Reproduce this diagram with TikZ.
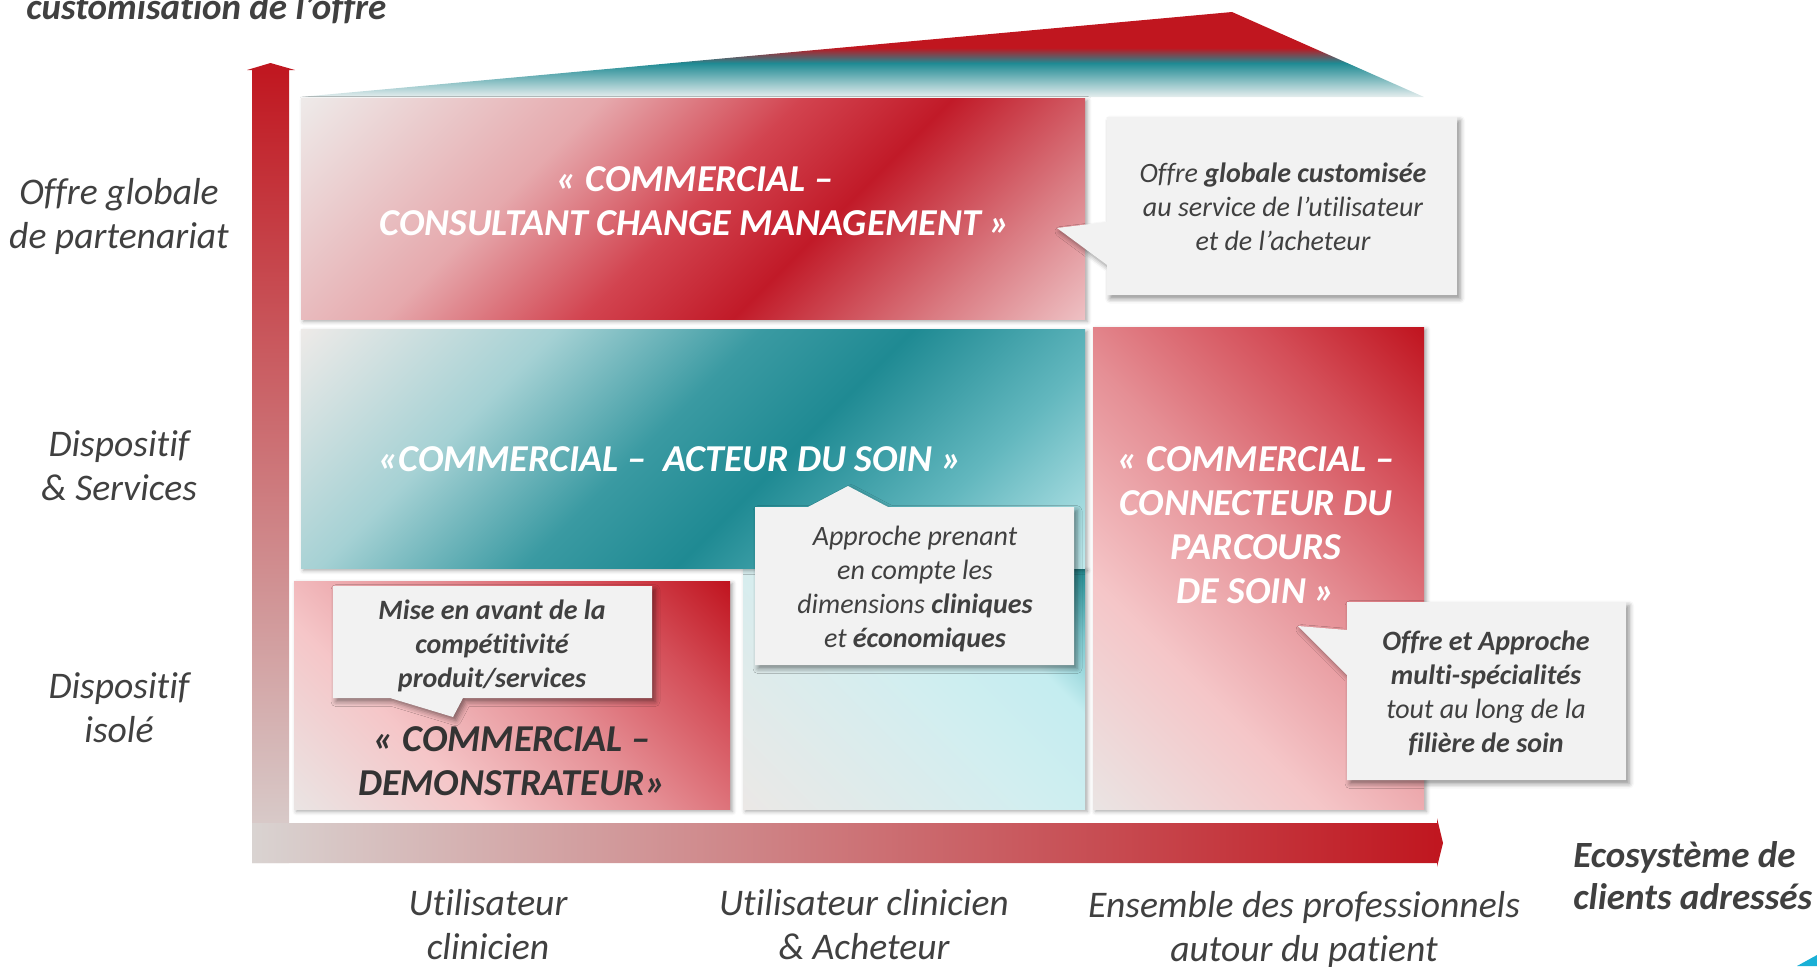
\documentclass[tikz,border=0pt]{standalone}
\usepackage{fontspec}
\setmainfont{Carlito}[Ligatures={TeX,NoCommon}]
\usetikzlibrary{shadows.blur}

\definecolor{txtgray}{HTML}{404040}
\definecolor{darktxt}{HTML}{333333}
\definecolor{boxred}{HTML}{C0161F}
\definecolor{tealdk}{HTML}{1F8A93}
\definecolor{axisgray}{HTML}{D9D3D1}
\definecolor{callfill}{HTML}{F2F2F2}
\definecolor{wlight}{HTML}{E6EEEE}
\definecolor{cyanmark}{HTML}{1AB0D6}

% top panel: light -> pink -> red -> pink
\definecolor{pA}{HTML}{EEEAE9}
\definecolor{pB}{HTML}{E6A9AD}
\definecolor{pC}{HTML}{D2434F}
\definecolor{pD}{HTML}{C11A28}
\definecolor{pE}{HTML}{DA7C83}
\definecolor{pF}{HTML}{EEC0C3}
\pgfdeclarehorizontalshading{topred}{100bp}{color(0bp)=(pA); color(14.6bp)=(pA);
  color(35.9bp)=(pB); color(50bp)=(pC); color(60.6bp)=(pD); color(74.8bp)=(pE);
  color(85.4bp)=(pF); color(100bp)=(pF)}

% middle panel: light -> teal -> light cyan
\definecolor{tA}{HTML}{EDEAE8}
\definecolor{tB}{HTML}{A5D1D4}
\definecolor{tC}{HTML}{3A9AA2}
\definecolor{tD}{HTML}{1F8A93}
\definecolor{tE}{HTML}{62B7BE}
\definecolor{tF}{HTML}{BFE9EC}
\pgfdeclarehorizontalshading{midteal}{100bp}{color(0bp)=(tA); color(14.6bp)=(tA);
  color(32.3bp)=(tB); color(46.5bp)=(tC); color(57.1bp)=(tD); color(71.2bp)=(tE);
  color(85.4bp)=(tF); color(100bp)=(tF)}

% lower teal panel: grey -> pale cyan -> teal
\definecolor{lA}{HTML}{EBE8E6}
\definecolor{lB}{HTML}{D2EEF0}
\definecolor{lC}{HTML}{C4EDF0}
\definecolor{lD}{HTML}{7CC7CD}
\definecolor{lE}{HTML}{22898F}
\pgfdeclarehorizontalshading{lowteal}{100bp}{color(0bp)=(lA); color(14.6bp)=(lA);
  color(50bp)=(lB); color(67.7bp)=(lC); color(76.9bp)=(lD);
  color(85.4bp)=(lE); color(100bp)=(lE)}

% red panels: grey -> pink -> red
\definecolor{rA}{HTML}{EAE4E3}
\definecolor{rB}{HTML}{F5C6C8}
\definecolor{rC}{HTML}{E58F95}
\definecolor{rD}{HTML}{D44E58}
\definecolor{rE}{HTML}{C0141F}
\pgfdeclarehorizontalshading{redpanel}{100bp}{color(0bp)=(rA); color(14.6bp)=(rA);
  color(34.4bp)=(rB); color(53.5bp)=(rC); color(71.2bp)=(rD);
  color(85.4bp)=(rE); color(100bp)=(rE)}

% top wedge: red over teal fading out
\pgfdeclareverticalshading{wedgeshade}{100bp}{color(0bp)=(wlight); color(25bp)=(wlight);
  color(45bp)=(tealdk); color(54bp)=(boxred); color(100bp)=(boxred)}

\begin{document}
\begin{tikzpicture}[x=0.5pt,y=-0.5pt,
  panel/.style={blur shadow={shadow xshift=1.2pt,shadow yshift=-1.2pt,shadow blur radius=2pt,shadow opacity=35}},
  callout/.style={fill=callfill,blur shadow={shadow xshift=1.5pt,shadow yshift=-1.8pt,shadow blur radius=2.5pt,shadow opacity=45}},
  lbl/.style={font=\fontsize{18.8}{22}\selectfont\itshape,text=txtgray,align=center,inner sep=0pt},
  axtitle/.style={font=\fontsize{18.5}{21}\selectfont\bfseries\itshape,text=txtgray,inner sep=0pt},
  bigtxt/.style={font=\fontsize{19}{22}\selectfont\bfseries\itshape,text=white,align=center,inner sep=0pt},
  calltxt/.style={font=\fontsize{14}{17}\selectfont\itshape,text=txtgray,align=center,inner sep=0pt}]
\useasboundingbox (0,0) rectangle (1817,966);

% title of the vertical axis, partly above the frame
\node[axtitle,anchor=base west] (ytitle) at (26,19) {customisation de l’offre};

% rising wedge above the panels
\path[shading=wedgeshade] (300,97) -- (1232,12) -- (1424,97) -- cycle;

% axes
\path[top color=boxred,bottom color=axisgray]
  (252,863) -- (252,70) -- (247,70) -- (270.5,63) -- (295,70) -- (289,70) -- (289,863) -- cycle;
\path[left color=axisgray,right color=boxred]
  (252,823) -- (1437,823) -- (1437,818) -- (1443,843) -- (1437,867) -- (1437,863) -- (252,863) -- cycle;

% panels
\path[panel,shading=lowteal,shading angle=45] (743,568) rectangle (1085,809);
\path[panel,shading=topred,shading angle=-45] (301,98) rectangle (1085,319);
\path[panel,shading=midteal,shading angle=-45] (301,329) rectangle (1085,568);
\path[panel,shading=redpanel,shading angle=45] (294,581) rectangle (730,809);
\path[panel,shading=redpanel,shading angle=45] (1093,327) rectangle (1424,809);

% panel titles
\node[bigtxt] (consultant) at (695,201) {« COMMERCIAL –\\CONSULTANT CHANGE MANAGEMENT »};
\node[bigtxt] (acteur) at (670,459) {«COMMERCIAL –~~ACTEUR DU SOIN »};
\node[bigtxt] (connecteur) at (1256,525) {« COMMERCIAL –\\CONNECTEUR DU\\PARCOURS\\DE SOIN »};
\node[bigtxt,text=darktxt] (demo) at (512,761) {« COMMERCIAL –\\DEMONSTRATEUR»};

% callouts
\path[callout] (1107,117) -- (1457,117) -- (1457,295) -- (1107,295) -- (1107,265) -- (1057,228) -- (1107,222) -- cycle;
\node[calltxt] (cA) at (1283,206.5) {Offre \textbf{globale customisée}\\au service de l’utilisateur\\et de l’acheteur};

\path[callout] (755,507) -- (808,507) -- (848,486) -- (888,507) -- (1074,507) -- (1074,665) -- (755,665) -- cycle;
\node[calltxt] (cB) at (915,589) {Approche prenant\\en compte les\\dimensions \textbf{cliniques}\\et \textbf{économiques}};

\path[callout] (333,586) -- (652,586) -- (652,698) -- (463,698) -- (453,717) -- (390,698) -- (333,698) -- cycle;
\node[calltxt,font=\fontsize{14}{17}\selectfont\bfseries\itshape] (cC) at (492,645.5) {Mise en avant de la\\compétitivité\\produit/services};

\path[callout] (1347,602) -- (1626,602) -- (1626,780) -- (1347,780) -- (1347,675) -- (1298,626) -- (1347,630) -- cycle;
\node[calltxt] (cD) at (1486,693) {\textbf{Offre et Approche}\\\textbf{multi-spécialités}\\tout au long de la\\\textbf{filière de soin}};

% vertical axis levels
\node[lbl] (lv1) at (119,216.5) {Offre globale\\de partenariat};
\node[lbl] (lv2) at (119,466) {Dispositif\\\& Services};
\node[lbl] (lv3) at (119,708) {Dispositif\\isolé};

% horizontal axis levels
\node[lbl] (hz1) at (488,925) {Utilisateur\\clinicien};
\node[lbl] (hz2) at (864,925) {Utilisateur clinicien\\\& Acheteur};
\node[lbl] (hz3) at (1304,929) {Ensemble des professionnels\\autour du patient};
\node[axtitle,align=left,anchor=west] (xtitle) at (1573,876) {Ecosystème de\\clients adressés};

% corner mark
\fill[cyanmark] (1797,966) -- (1817,955) -- (1817,966) -- cycle;
\end{tikzpicture}
\end{document}
